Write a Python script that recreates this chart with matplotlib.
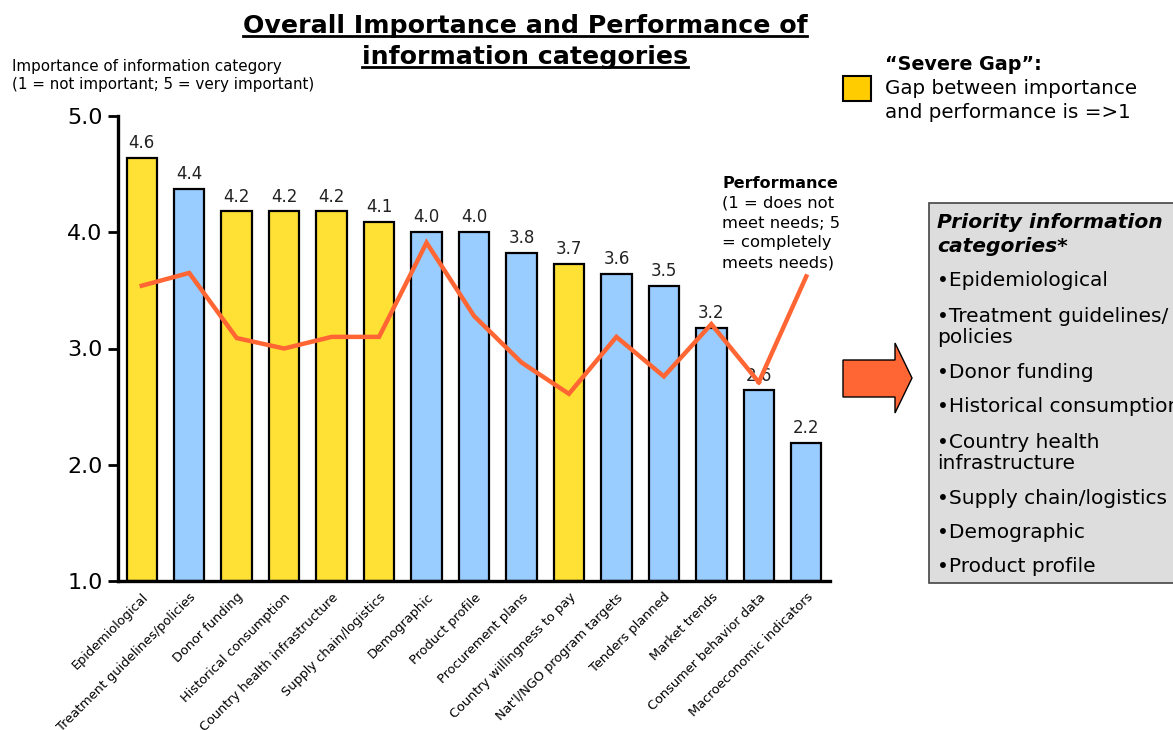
import numpy as np
import matplotlib
matplotlib.use('Agg')
import matplotlib.pyplot as plt
from matplotlib.patches import Rectangle, Polygon
from matplotlib.lines import Line2D

categories = ['Epidemiological', 'Treatment guidelines/policies', 'Donor funding',
              'Historical consumption', 'Country health infrastructure',
              'Supply chain/logistics', 'Demographic', 'Product profile',
              'Procurement plans', 'Country willingness to pay',
              "Nat'l/NGO program targets", 'Tenders planned', 'Market trends',
              'Consumer behavior data', 'Macroeconomic indicators']
importance = [4.64, 4.37, 4.18, 4.18, 4.18, 4.09, 4.0, 4.0, 3.82, 3.73, 3.64, 3.54,
              3.18, 2.64, 2.19]
performance = [3.54, 3.65, 3.09, 3.0, 3.1, 3.1, 3.91, 3.28, 2.88, 2.61, 3.1, 2.76, 3.21, 2.71]
severe_gap = [True, False, True, True, True, True, False, False, False, True,
              False, False, False, False, False]
priority_items = ['\u2022Epidemiological', '\u2022Treatment guidelines/\npolicies',
                  '\u2022Donor funding', '\u2022Historical consumption',
                  '\u2022Country health\ninfrastructure', '\u2022Supply chain/logistics',
                  '\u2022Demographic', '\u2022Product profile']

YELLOW = '#FFE135'
BLUE = '#99CCFF'
ORANGE = '#FF6633'

W, H = 1173, 730
fig = plt.figure(figsize=(W / 100, H / 100), dpi=100)
ax = fig.add_axes([118 / W, 1 - 581 / H, (830 - 118) / W, (581 - 116) / H])

def fx(px):
    return px / W

def fy(py):
    return 1 - py / H

x = np.arange(len(categories))
colors = [YELLOW if g else BLUE for g in severe_gap]
bars = ax.bar(x, np.array(importance) - 1.0, bottom=1.0, width=0.64,
              color=colors, edgecolor='black', linewidth=1.6, zorder=2)
for xi, v in zip(x, importance):
    ax.text(xi, v + 0.05, f'{v:.1f}', ha='center', va='bottom', fontsize=12,
            color='#222222', zorder=3)

ax.plot(np.arange(len(performance)), performance, color=ORANGE, lw=3.2,
        solid_joinstyle='miter', zorder=4)
# leader from the last performance point up to its caption
ax.plot([len(performance) - 1, 14], [performance[-1], 3.62], color=ORANGE, lw=3.2, zorder=4)

ax.set_xlim(-0.5, 14.5)
ax.set_ylim(1.0, 5.0)
ax.set_yticks([1.0, 2.0, 3.0, 4.0, 5.0])
ax.set_yticklabels(['1.0', '2.0', '3.0', '4.0', '5.0'], fontsize=16)
ax.set_xticks(x)
ax.set_xticklabels(categories, rotation=45, ha='right', rotation_mode='anchor',
                   fontsize=9.3)
ax.tick_params(axis='x', length=0, pad=7)
ax.tick_params(axis='y', length=7, width=2, pad=4)
for s in ['top', 'right']:
    ax.spines[s].set_visible(False)
for s in ['left', 'bottom']:
    ax.spines[s].set_linewidth(2.4)

# title with underlines
t1 = fig.text(fx(525), fy(26), 'Overall Importance and Performance of', ha='center',
              va='center', fontsize=18.2, fontweight='bold')
t2 = fig.text(fx(525), fy(57), 'information categories', ha='center', va='center',
              fontsize=18.2, fontweight='bold')

fig.text(fx(12), fy(66), 'Importance of information category', ha='left', va='center',
         fontsize=10.9)
fig.text(fx(12), fy(84), '(1 = not important; 5 = very important)', ha='left', va='center',
         fontsize=10.9)

# severe gap legend
fig.patches.append(Rectangle((fx(843), fy(101)), (871 - 843) / W, 25 / H,
                             facecolor='#FFCC00', edgecolor='black', lw=1.5,
                             transform=fig.transFigure))
fig.text(fx(885), fy(65), '\u201cSevere Gap\u201d:', ha='left', va='center', fontsize=13.8,
         fontweight='bold')
fig.text(fx(885), fy(88), 'Gap between importance', ha='left', va='center', fontsize=14.3)
fig.text(fx(885), fy(112), 'and performance is =>1', ha='left', va='center', fontsize=14.3)

# performance caption
fig.text(fx(722), fy(183), 'Performance', ha='left', va='center', fontsize=11.5,
         fontweight='bold')
for i, line in enumerate(['(1 = does not', 'meet needs; 5', '= completely', 'meets needs)']):
    fig.text(fx(722), fy(203 + 20 * i), line, ha='left', va='center', fontsize=11.8)

# block arrow
arrow_pts = [(843, 360), (895, 360), (895, 343), (912, 378), (895, 413), (895, 397), (843, 397)]
fig.patches.append(Polygon([(fx(px), fy(py)) for px, py in arrow_pts], closed=True,
                           facecolor=ORANGE, edgecolor='black', lw=1.0,
                           transform=fig.transFigure))

# priority box
fig.patches.append(Rectangle((fx(929), fy(583)), (1180 - 929) / W, (583 - 203) / H,
                             facecolor='#DDDDDD', edgecolor='#444444', lw=1.2,
                             transform=fig.transFigure))
fig.text(fx(937), fy(222), 'Priority information', ha='left', va='center', fontsize=14.6,
         fontweight='bold', style='italic')
fig.text(fx(937), fy(247), 'categories*', ha='left', va='center', fontsize=14.6,
         fontweight='bold', style='italic')
ypos = [281, 327, 373, 407, 453, 499, 532, 566]
for yp, item in zip(ypos, priority_items):
    fig.text(fx(937), fy(yp), item, ha='left', va='center', fontsize=14.5,
             linespacing=1.12)

fig.canvas.draw()
r = fig.canvas.get_renderer()
for t in (t1, t2):
    bb = t.get_window_extent(r)
    yl = bb.y0 + 2
    fig.lines.append(Line2D([bb.x0 / W, bb.x1 / W], [yl / H, yl / H], color='black',
                            lw=2.0, transform=fig.transFigure))

fig.savefig('out.png', dpi=100)
